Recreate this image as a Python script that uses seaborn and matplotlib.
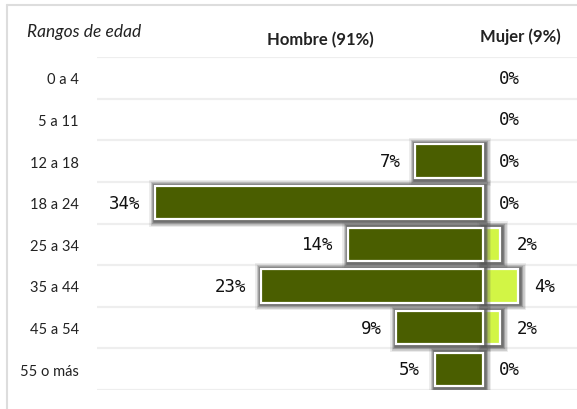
import matplotlib
matplotlib.use("Agg")
import matplotlib.pyplot as plt
import matplotlib.patheffects as pe
from matplotlib.lines import Line2D
import seaborn as sns
import numpy as np

categories = ["0 a 4", "5 a 11", "12 a 18", "18 a 24", "25 a 34", "35 a 44", "45 a 54", "55 o más"]
hombre = [0, 0, 7, 34, 14, 23, 9, 5]
mujer = [0, 0, 0, 0, 1.8, 3.6, 1.8, 0]
header_cat = "Rangos de edad"
header_h = "Hombre (91%)"
header_m = "Mujer (9%)"

sns.set_theme(style="white")
plt.rcParams["font.family"] = ["Lato", "DejaVu Sans"]

W, H = 577, 410
fig = plt.figure(figsize=(W / 100, H / 100), dpi=100)
fig.patch.set_facecolor("white")

ax = fig.add_axes([97 / W, (H - 391) / H, (W - 97) / W, 333 / H])

male_color = "#4a5e00"
female_color = "#d2f545"

sns.barplot(x=np.array(mujer, dtype=float), y=categories, orient="h",
            color=female_color, saturation=1, width=0.8, ax=ax)
n_f = len(ax.patches)
sns.barplot(x=-np.array(hombre, dtype=float), y=categories, orient="h",
            color=male_color, saturation=1, width=0.8, ax=ax)

off = (0.6, -0.6)
effects = [pe.Stroke(linewidth=10, foreground="#666666", alpha=0.12, offset=off),
           pe.Stroke(linewidth=8, foreground="#666666", alpha=0.22, offset=off),
           pe.Stroke(linewidth=6, foreground="#5a5a5a", alpha=0.38, offset=off),
           pe.Stroke(linewidth=4, foreground="#505050", alpha=0.6, offset=off),
           pe.Normal()]
for k, p in enumerate(ax.patches):
    if abs(p.get_width()) < 1e-9:
        p.set_visible(False)
        continue
    p.set_edgecolor("white")
    p.set_linewidth(1.6)
    p.set_path_effects(effects)
    p.set_zorder(2 if k < n_f else 3)

ax.set_xlim(-40, 9.74)
ax.set_ylim(len(categories) - 0.5, -0.5)

for i in range(len(categories) + 1):
    ax.axhline(i - 0.5, color="#eeeeee", lw=1.6, zorder=0)

mono = ["DejaVu Sans Mono"]
for i, v in enumerate(hombre):
    if v > 0:
        ax.annotate(f"{v:.0f}%", xy=(-v, i), xytext=(-10.5, 0), textcoords="offset points",
                    ha="right", va="center", fontsize=12.5, fontfamily=mono, color="#111111", zorder=4)
for i, v in enumerate(mujer):
    ax.annotate(f"{v:.0f}%", xy=(v, i), xytext=(11.5, 0), textcoords="offset points",
                ha="left", va="center", fontsize=12.5, fontfamily=mono, color="#111111", zorder=4)

ax.set_yticks(range(len(categories)))
ax.set_yticklabels(categories, fontsize=10.5, color="#222222")
ax.tick_params(axis="y", length=0, pad=13)
ax.set_xticks([])
ax.set_xlabel("")
ax.set_ylabel("")
for s in ax.spines.values():
    s.set_visible(False)

fig.text(27 / W, 1 - 32 / H, header_cat, fontsize=12.5, style="italic", ha="left", va="center", color="#222222")
fig.text(320 / W, 1 - 40 / H, header_h, fontsize=12, weight="bold", ha="center", va="center", color="#222222")
fig.text(520 / W, 1 - 37 / H, header_m, fontsize=12, weight="bold", ha="center", va="center", color="#222222")

fig.add_artist(Line2D([7 / W, 1], [1 - 6 / H, 1 - 6 / H], transform=fig.transFigure, color="#dddddd", lw=1.5))
fig.add_artist(Line2D([7 / W, 7 / W], [0, 1 - 6 / H], transform=fig.transFigure, color="#dddddd", lw=1.5))

fig.savefig("out.png", dpi=100, facecolor="white")
